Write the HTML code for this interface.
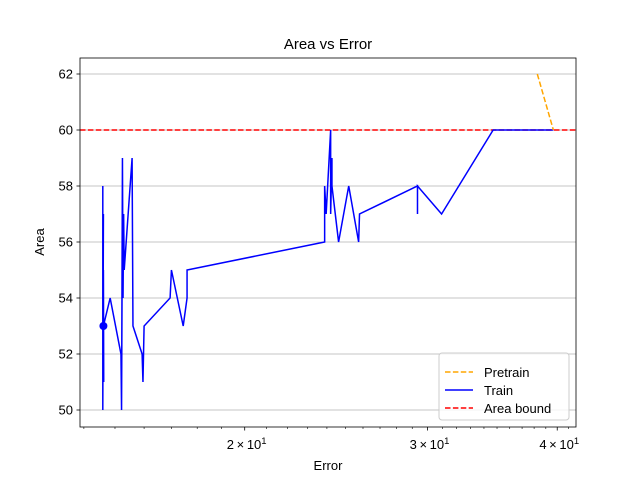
<!DOCTYPE html>
<html><head><meta charset="utf-8"><style>
body{margin:0;background:#fff}
svg{font-family:"Liberation Sans","DejaVu Sans",sans-serif}
</style></head><body>
<svg id="chart" width="640" height="480">
<rect width="640" height="480" fill="#fff"/>
<g id="grid"></g>
<g id="series"></g>
<g id="axes"></g>
<text x="328" y="49" text-anchor="middle" font-size="15">Area vs Error</text>
<text x="328" y="470" text-anchor="middle" font-size="13">Error</text>
<text x="44" y="242" text-anchor="middle" font-size="13" transform="rotate(-90 44 242)">Area</text>
<g>
<rect x="439" y="353" width="130" height="67" rx="3" fill="#fff" fill-opacity="0.8" stroke="#ccc"/>
<line x1="445" y1="372" x2="473" y2="372" stroke="orange" stroke-width="1.5" stroke-dasharray="5.5,2.4"/>
<text x="484" y="377" font-size="13">Pretrain</text>
<line x1="445" y1="390" x2="473" y2="390" stroke="blue" stroke-width="1.5"/>
<text x="484" y="395" font-size="13">Train</text>
<line x1="445" y1="408" x2="473" y2="408" stroke="red" stroke-width="1.5" stroke-dasharray="5.5,2.4"/>
<text x="484" y="413" font-size="13">Area bound</text>
</g>
</svg>
<script>
const trainErrors=[14.60,14.60,14.62,14.60,14.62,14.63,14.62,14.84,15.20,15.22,15.24,15.22,15.25,15.27,15.29,15.31,15.58,15.61,15.93,15.96,16.0,16.95,17.0,17.45,17.6,17.6,23.88,23.88,23.96,24.2,24.2,24.27,24.27,24.63,25.19,25.75,25.8,29.34,29.34,29.34,30.95,34.7,39.66];
const trainAreas=[58,50,57,52,55,51,53,54,52,50,55,50,59,54,57,55,59,53,52,51,53,54,55,53,54,55,56,58,57,60,57,59,58,56,58,56,57,58,57,58,57,60,60];
const pretrainErrors=[38.27,39.66];
const pretrainAreas=[62,60];
const areaBound=60;
const markerPoint=[14.62,53];
const yTicks=[50,52,54,56,58,60,62];
const xTickValues=[20,30,40];
const xTickLabels=["2","3","4"];
const xMinorTicks=[14,15,16,17,18,19,21,22,23,24,25,26,27,28,29,31,32,33,34,35,36,37,38,39,41];

const L=80,R=576,T=58,B=427;
const xMin=13.88,xMax=41.7;
const sx=v=>L+(Math.log10(v)-Math.log10(xMin))/(Math.log10(xMax)-Math.log10(xMin))*(R-L);
const sy=v=>410-(v-50)*28;
const NS="http://www.w3.org/2000/svg";
function mk(tag,attrs,parent){const e=document.createElementNS(NS,tag);for(const k in attrs)e.setAttribute(k,attrs[k]);document.getElementById(parent).appendChild(e);return e;}

yTicks.forEach(v=>{
  const g=mk('line',{x1:L,x2:R,y1:sy(v),y2:sy(v),stroke:'#b0b0b0','stroke-width':0.8},'grid');
  
  
  const t=mk('line',{x1:L-3.5,x2:L,y1:sy(v),y2:sy(v),stroke:'#000','stroke-width':0.8},'axes');
  
  
  const l=mk('text',{x:L-7,y:sy(v)+4.5,'text-anchor':'end','font-size':13},'axes');
  l.textContent=v;
  
  
});
xMinorTicks.forEach(v=>{
  const t=mk('line',{x1:sx(v),x2:sx(v),y1:B,y2:B+2,stroke:'#000','stroke-width':0.6},'axes');
  
  
});
xTickValues.forEach((v,i)=>{
  const t=mk('line',{x1:sx(v),x2:sx(v),y1:B,y2:B+3.5,stroke:'#000','stroke-width':0.8},'axes');
  
  
  const l=mk('text',{x:sx(v)+2,y:B+22,'text-anchor':'middle','font-size':13},'axes');
  l.innerHTML=xTickLabels[i]+'\u2009\u00d7\u200910<tspan dy="-5" font-size="9.5">1</tspan>';
  
  
});
const frame=mk('rect',{x:L,y:T,width:R-L,height:B-T,fill:'none',stroke:'#000','stroke-width':0.8},'axes');



const bound=mk('line',{x1:L,x2:R,y1:sy(areaBound),y2:sy(areaBound),stroke:'red','stroke-width':1.5,'stroke-dasharray':'5.5,2.4'},'series');


const tp=mk('polyline',{points:trainErrors.map((e,i)=>sx(e)+','+sy(trainAreas[i])).join(' '),fill:'none',stroke:'blue','stroke-width':1.5},'series');


const pp=mk('polyline',{points:pretrainErrors.map((e,i)=>sx(e)+','+sy(pretrainAreas[i])).join(' '),fill:'none',stroke:'orange','stroke-width':1.5,'stroke-dasharray':'5.5,2.4'},'series');


const m=mk('circle',{cx:sx(markerPoint[0]),cy:sy(markerPoint[1]),r:4,fill:'blue'},'series');


</script>
</body></html>
